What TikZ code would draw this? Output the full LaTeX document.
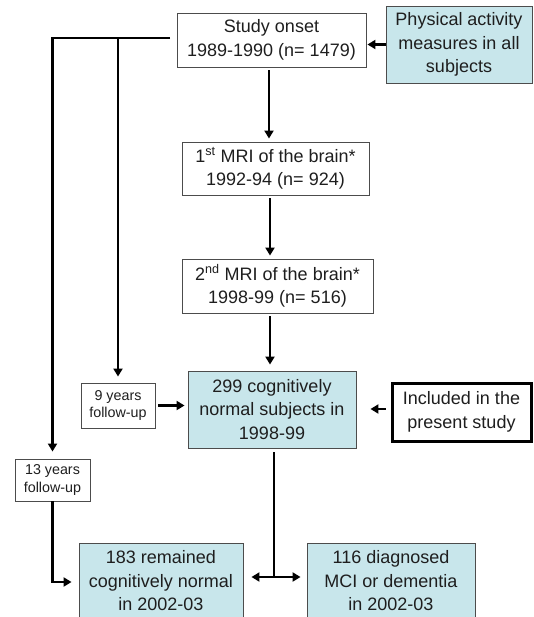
\documentclass[tikz,border=0pt]{standalone}
\usepackage{fontspec}
\setmainfont{Liberation Sans}
\usetikzlibrary{arrows.meta}
\definecolor{boxblue}{RGB}{200,230,235}
\definecolor{txt}{RGB}{30,30,30}
\begin{document}
\begin{tikzpicture}[x=1pt,y=-1pt,
  box/.style={draw=black!70,line width=0.9pt,align=center,inner sep=0pt,text=txt,font=\fontsize{18}{23.5}\selectfont},
  bluebox/.style={box,fill=boxblue},
  smallbox/.style={draw=black!70,line width=0.9pt,align=center,inner sep=0pt,text=txt,font=\fontsize{14.3}{17.5}\selectfont},
  arr/.style={line width=2.6pt,-{Triangle[length=8pt,width=9pt]}},
  dbl/.style={line width=2.6pt,{Triangle[length=8pt,width=9pt]}-{Triangle[length=8pt,width=9pt]}},
  plain/.style={line width=2.6pt}]
\useasboundingbox (0,0) rectangle (533,617);
\begin{scope}
\clip (0,0) rectangle (533,617);
\node[box,minimum width=189pt,minimum height=54pt] (onset) at (271.5,40) {Study onset\\1989-1990 (n= 1479)};
\node[bluebox,minimum width=146pt,minimum height=77pt] (pa) at (459,44.5) {Physical activity\\measures in all\\subjects};
\node[box,minimum width=187pt,minimum height=53pt] (mri1) at (275.5,168.5) {1\textsuperscript{st} MRI of the brain*\\1992-94 (n= 924)};
\node[box,minimum width=191pt,minimum height=54pt] (mri2) at (277.5,286) {2\textsuperscript{nd} MRI of the brain*\\1998-99 (n= 516)};
\node[smallbox,minimum width=74pt,minimum height=45pt] (y9) at (118,405.5) {9 years\\follow-up};
\node[bluebox,minimum width=168pt,minimum height=77pt] (cn) at (272,409.5) {299 cognitively\\normal subjects in\\1998-99};
\node[box,line width=3pt,draw=black,minimum width=139pt,minimum height=58pt] (inc) at (461.5,412) {Included in the\\present study};
\node[smallbox,minimum width=75pt,minimum height=42pt] (y13) at (52.5,480) {13 years\\follow-up};
\node[bluebox,minimum width=164pt,minimum height=76pt] (rem) at (161,581) {183 remained\\cognitively normal\\in 2002-03};
\node[bluebox,minimum width=168pt,minimum height=76pt] (mci) at (391,581) {116 diagnosed\\MCI or dementia\\in 2002-03};
\coordinate (lt) at (170,38);
\coordinate (j) at (274,577);
\coordinate (k) at (53,582);
% connectors
\draw[arr,shorten >=1pt] (pa.west) -- (pa.west -| onset.east);
\draw[arr,shorten >=7pt] (lt) -| (y13.north);
\draw[arr,shorten >=6pt] (lt -| y9.north) -- (y9.north);
\draw[arr,shorten <=3pt,shorten >=3pt] (onset.south -| 269,0) -- (mri1.north -| 269,0);
\draw[arr,shorten <=3pt,shorten >=3pt] (mri1.south -| 270,0) -- (mri2.north -| 270,0);
\draw[arr,shorten <=3pt,shorten >=6pt] (mri2.south -| 270,0) -- (cn.north -| 270,0);
\draw[arr,shorten <=3pt,shorten >=3pt] (y9.east) -- (y9.east -| cn.west);
\draw[arr,shorten <=5pt,shorten >=14pt] (inc.west |- 0,409) -- (cn.east |- 0,409);
\draw[plain,shorten <=4pt] (cn.south -| j) -- (j);
\draw[dbl,shorten <=8pt,shorten >=6pt] (j -| rem.east) -- (j -| mci.west);
\draw[arr,shorten >=7pt] (y13.south) |- (rem.west |- k);
\end{scope}
\end{tikzpicture}
\end{document}
